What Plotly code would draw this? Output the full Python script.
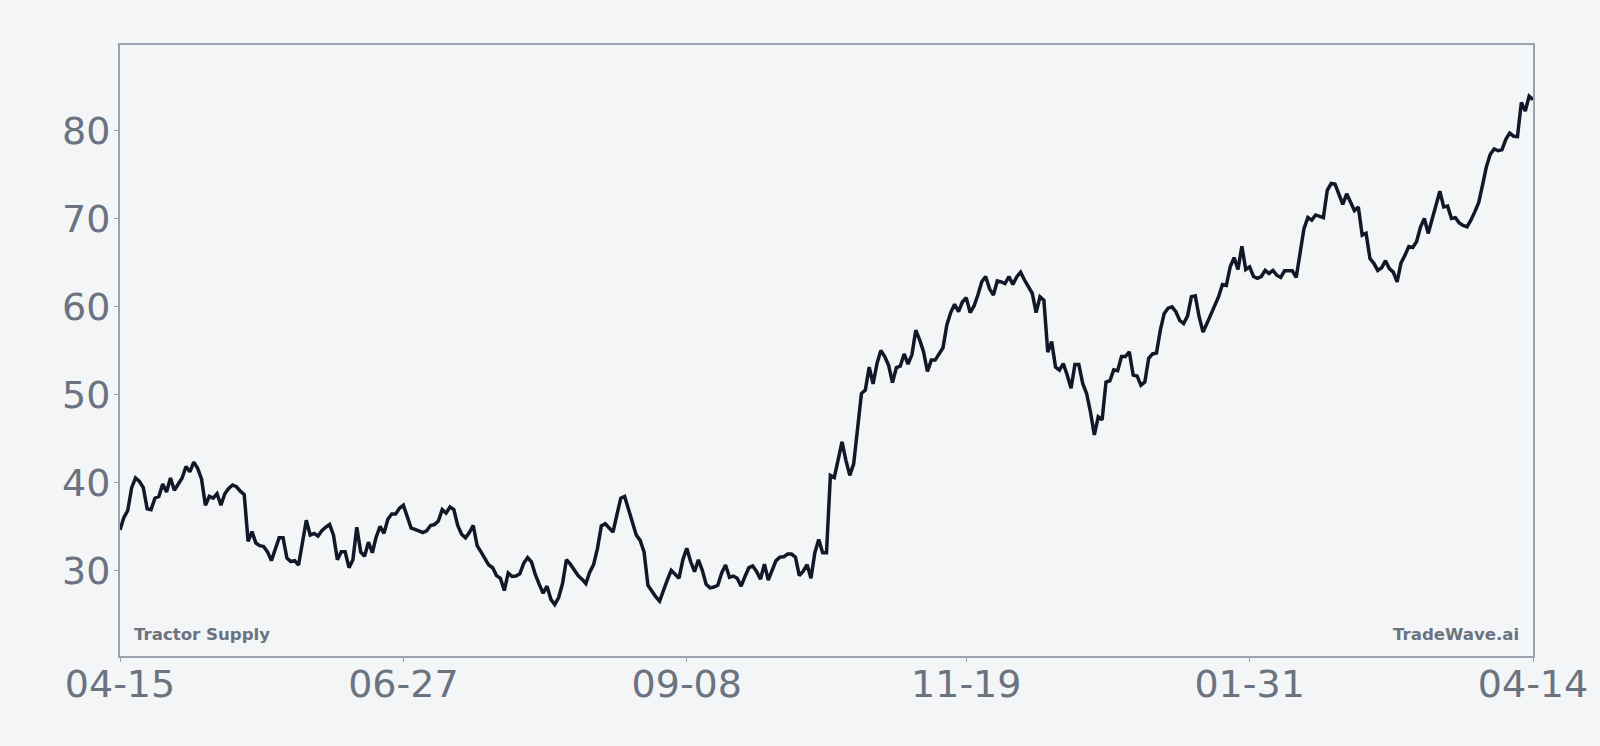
import pandas as pd
import plotly.graph_objects as go

# ---- data ----
start_date = "2024-04-15"
prices = [
    34.6, 36.0, 36.8, 39.4, 40.5, 40.1, 39.4, 37.0, 36.9, 38.2,
    38.4, 39.8, 38.9, 40.5, 39.1, 39.9, 40.5, 41.8, 41.2, 42.3,
    41.6, 40.4, 37.4, 38.4, 38.2, 38.7, 37.4, 38.7, 39.3, 39.7,
    39.5, 39.0, 38.6, 33.3, 34.4, 33.1, 32.8, 32.7, 32.1, 31.1,
    32.4, 33.7, 33.7, 31.4, 31.0, 31.1, 30.6, 33.2, 35.7, 34.0,
    34.2, 33.9, 34.5, 34.9, 35.2, 34.0, 31.2, 32.1, 32.1, 30.3,
    31.2, 34.9, 32.1, 31.6, 33.2, 32.0, 33.8, 35.0, 34.2, 35.8,
    36.4, 36.4, 37.05, 37.4, 36.1, 34.8, 34.65, 34.5, 34.3, 34.5,
    35.1, 35.2, 35.6, 36.9, 36.5, 37.2, 36.9, 35.1, 34.1, 33.7,
    34.3, 35.1, 32.8, 32.1, 31.3, 30.6, 30.3, 29.4, 29.1, 27.7,
    29.7, 29.3, 29.35, 29.6, 30.8, 31.45, 30.95, 29.5, 28.4, 27.4,
    28.2, 26.7, 26.1, 26.9, 28.5, 31.2, 30.7, 30.1, 29.4, 29.0,
    28.5, 29.8, 30.65, 32.5, 35.05, 35.3, 34.8, 34.35, 36.3, 38.2,
    38.4, 37.0, 35.7, 34.0, 33.4, 32.1, 28.3, 27.6, 27.0, 26.5,
    27.8, 28.9, 30.0, 29.5, 29.1, 31.2, 32.5, 31.0, 29.85, 31.2,
    30.0, 28.4, 28.0, 28.1, 28.3, 29.7, 30.6, 29.2, 29.35, 29.1,
    28.2, 29.3, 30.3, 30.5, 29.85, 29.0, 30.7, 28.9, 30.1, 31.1,
    31.5, 31.55, 31.85, 31.85, 31.5, 29.4, 29.9, 30.65, 29.1, 32.0,
    33.5, 32.0, 32.0, 40.8, 40.55, 42.5, 44.6, 42.5, 40.8, 42.1,
    45.9, 50.1, 50.5, 53.1, 51.2, 53.5, 55.0, 54.3, 53.3, 51.35,
    53.05, 53.2, 54.6, 53.45, 54.5, 57.3, 56.2, 54.85, 52.6, 53.9,
    53.9, 54.6, 55.3, 57.9, 59.3, 60.25, 59.4, 60.5, 61.0, 59.3,
    60.05, 61.3, 62.8, 63.4, 62.0, 61.3, 62.9, 62.8, 62.6, 63.4,
    62.5, 63.35, 63.9, 63.0, 62.2, 61.5, 59.3, 61.1, 60.7, 54.8,
    56.0, 53.1, 52.75, 53.5, 52.2, 50.7, 53.4, 53.4, 51.25, 50.1,
    48.0, 45.4, 47.45, 47.1, 51.4, 51.55, 52.8, 52.7, 54.3, 54.3,
    54.85, 52.2, 52.1, 51.05, 51.4, 54.1, 54.6, 54.7, 57.3, 59.2,
    59.8, 59.95, 59.4, 58.4, 58.05, 58.9, 61.1, 61.2, 58.8, 57.1,
    58.05, 59.0, 59.95, 61.1, 62.5, 62.4, 64.5, 65.55, 64.2, 66.85,
    64.2, 64.5, 63.4, 63.2, 63.4, 64.1, 63.75, 64.1, 63.55, 63.3,
    64.05, 64.05, 64.05, 63.3, 66.0, 68.85, 70.1, 69.8, 70.4, 70.2,
    70.1, 73.2, 73.97, 73.9, 72.8, 71.6, 72.8, 71.9, 70.9, 71.3,
    68.1, 68.3, 65.45, 64.9, 64.1, 64.4, 65.2, 64.3, 63.9, 62.8,
    64.95, 65.8, 66.8, 66.7, 67.35, 69.0, 70.0, 68.3, 69.8, 71.3,
    73.1, 71.3, 71.4, 70.0, 70.1, 69.5, 69.2, 69.05, 69.8, 70.75,
    71.8, 73.8, 75.9, 77.3, 77.9, 77.7, 77.8, 79.0, 79.7, 79.35,
    79.3, 83.2, 82.2, 83.9, 83.5,
]
dates = pd.date_range(start_date, periods=len(prices), freq="D")

x_tick_dates = ["2024-04-15", "2024-06-27", "2024-09-08", "2024-11-19", "2025-01-31", "2025-04-14"]
y_tick_vals = [30, 40, 50, 60, 70, 80]
ticker_label = "Tractor Supply"
brand_label = "TradeWave.ai"

BG = "#f4f5f7"
AXIS = "#9ca3af"
TEXT = "#6b7280"
LINE = "#111827"
FONT = "DejaVu Sans"

fig = go.Figure()
fig.add_trace(go.Scatter(
    x=dates, y=prices, mode="lines",
    line=dict(color=LINE, width=3.5),
    hoverinfo="skip", showlegend=False,
))

fig.update_layout(
    width=1600, height=746,
    paper_bgcolor=BG, plot_bgcolor=BG,
    margin=dict(l=120, r=62, t=45, b=90),
    font=dict(family=FONT, color=TEXT),
    showlegend=False,
)
fig.update_xaxes(
    type="date",
    range=[x_tick_dates[0], x_tick_dates[-1]],
    tickvals=x_tick_dates, tickformat="%m-%d",
    showgrid=False, zeroline=False,
    showline=True, mirror=True, linecolor=AXIS, linewidth=2,
    ticks="outside", ticklen=4, tickwidth=1, tickcolor=AXIS,
    ticklabelstandoff=-11,
    tickfont=dict(family=FONT, size=38, color=TEXT),
)
fig.update_yaxes(
    range=[20.26, 89.72],
    tickvals=y_tick_vals,
    showgrid=False, zeroline=False,
    showline=True, mirror=True, linecolor=AXIS, linewidth=2,
    ticks="outside", ticklen=4, tickwidth=1, tickcolor=AXIS,
    ticklabelstandoff=-4,
    tickfont=dict(family=FONT, size=38, color=TEXT),
)
fig.add_annotation(
    text=f"<b>{ticker_label}</b>", xref="paper", yref="paper",
    x=0, y=0, xanchor="left", yanchor="bottom", xshift=12, yshift=10,
    showarrow=False, font=dict(family=FONT, size=16.6, color=TEXT),
)
fig.add_annotation(
    text=f"<b>{brand_label}</b>", xref="paper", yref="paper",
    x=1, y=0, xanchor="right", yanchor="bottom", xshift=-12, yshift=10,
    showarrow=False, font=dict(family=FONT, size=16.6, color=TEXT),
)

fig.write_html(
    "out.html",
    config={"displayModeBar": False},
    post_script=f"document.body.style.margin='0';document.body.style.background='{BG}';",
)
